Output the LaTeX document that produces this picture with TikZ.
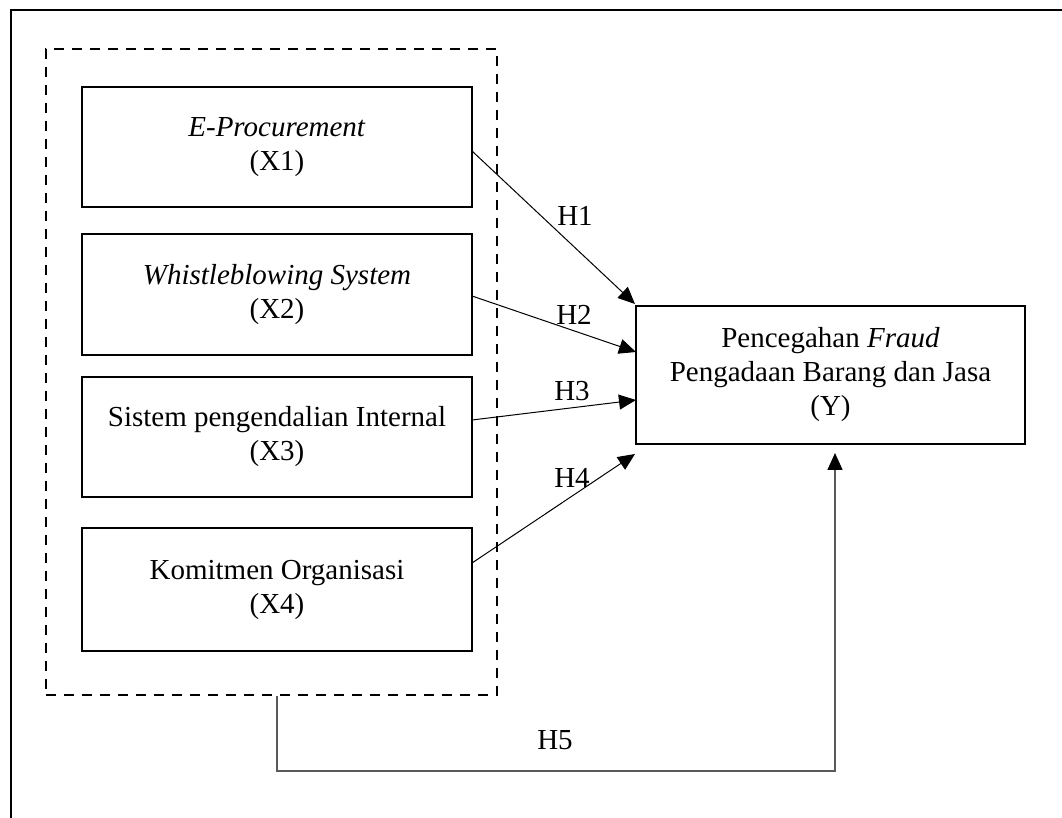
\documentclass[tikz,border=0pt]{standalone}
\usepackage{fontspec}
\setmainfont{Liberation Serif}
\usetikzlibrary{arrows.meta}
\begin{document}
\begin{tikzpicture}[x=0.5pt,y=-0.5pt,
  txt/.style={font=\fontsize{14.5}{17}\selectfont},
  varbox/.style={draw,line width=1.1pt,minimum width=195pt,align=center,inner sep=0pt,txt},
  dashbox/.style={draw,line width=1.1pt,dash pattern=on 5pt off 4pt,minimum width=225.5pt,minimum height=323pt,inner sep=0pt},
  arr/.style={line width=0.5pt,-{Triangle[length=8.5pt,width=7.5pt,color=black,fill=black]}},
  lbl/.style={txt,inner sep=0pt}]
\useasboundingbox (0,0) rectangle (1062,818);
\draw[line width=1.1pt] (11,818) -- (11,10) -- (1062,10);
\node[dashbox] (dash) at (271.5,372) {};
\node[varbox,minimum height=60pt] (b1) at (277,147) {\textit{E-Procurement}\\(X1)};
\node[varbox,minimum height=60.5pt] (b2) at (277,294.5) {\textit{Whistleblowing System}\\(X2)};
\node[varbox,minimum height=60pt] (b3) at (277,437) {Sistem pengendalian Internal\\(X3)};
\node[varbox,minimum height=61.5pt] (b4) at (277,589.5) {Komitmen Organisasi\\(X4)};
\node[varbox,minimum width=194.5pt,minimum height=69pt] (y) at (830.5,375) {Pencegahan \textit{Fraud}\\Pengadaan Barang dan Jasa\\(Y)};
\coordinate (s1) at (472,151);
\coordinate (s2) at (472,296);
\coordinate (s3) at (472,420);
\coordinate (s4) at (472,563);
\coordinate (t1) at (635,304);
\coordinate (t2) at (636,352);
\coordinate (t3) at (636,400);
\coordinate (t4) at (635,454);
\draw[arr] (s1) -- (t1);
\draw[arr] (s2) -- (t2);
\draw[arr] (s3) -- (t3);
\draw[arr] (s4) -- (t4);
\node[lbl] (h1) at (575,216) {H1};
\node[lbl] (h2) at (574,315) {H2};
\node[lbl] (h3) at (572,391) {H3};
\node[lbl] (h4) at (572,478) {H4};
\node[lbl] (h5) at (555,740) {H5};
\coordinate (s5) at (b1 |- dash.south);
\coordinate (t5) at (835,453);
\draw[arr,draw=black!65,line width=0.75pt] (s5) -- (277,771) -| (t5);
\end{tikzpicture}
\end{document}
